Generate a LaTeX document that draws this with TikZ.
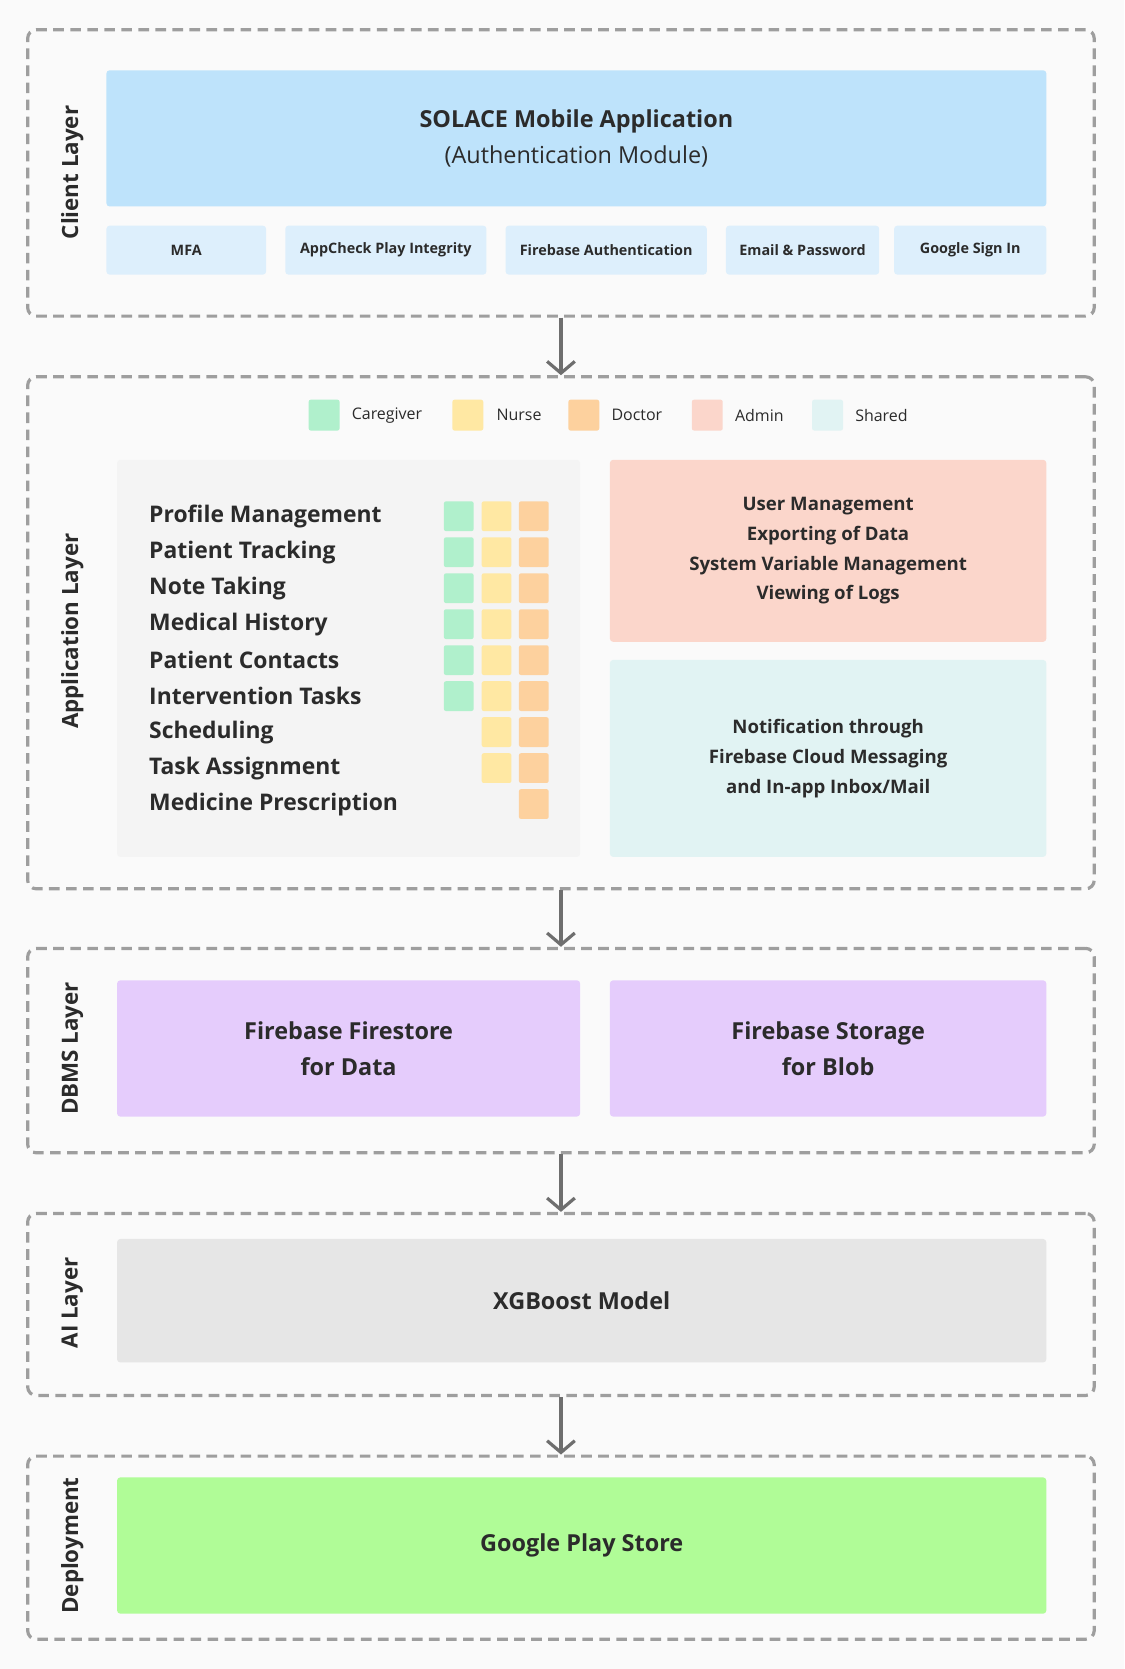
\documentclass[tikz,border=0pt]{standalone}
\usepackage{fontspec}
\setmainfont{Open Sans}
\usetikzlibrary{arrows.meta}
\definecolor{bgc}{HTML}{FAFAFA}
\definecolor{clientc}{HTML}{BEE3FB}
\definecolor{authc}{HTML}{DDEFFC}
\definecolor{carec}{HTML}{B0F0CC}
\definecolor{nursec}{HTML}{FFE8A3}
\definecolor{docc}{HTML}{FDD19E}
\definecolor{adminc}{HTML}{FBD6CB}
\definecolor{sharedc}{HTML}{E1F3F3}
\definecolor{listc}{HTML}{F4F4F4}
\definecolor{dbc}{HTML}{E5CCFC}
\definecolor{aic}{HTML}{E6E6E6}
\definecolor{deployc}{HTML}{B0FC97}
\definecolor{linec}{HTML}{9E9E9E}
\definecolor{arrowc}{HTML}{6E6E6E}
\definecolor{textc}{HTML}{2B2B2B}
\tikzset{
  layer/.style={draw=linec, line width=3pt, dash pattern=on 10pt off 6pt, rounded corners=8pt, minimum width=1002pt},
  panel/.style={rounded corners=3pt, inner sep=0pt, align=center, text=textc},
  layerlabel/.style={rotate=90, font=\fontsize{21}{26}\selectfont\bfseries, text=textc},
  flow/.style={draw=arrowc, line width=3pt, -{Straight Barb[length=11pt,width=26pt]}},
  tag/.style={panel, minimum height=46pt, font=\fontsize{13.5}{17}\selectfont\bfseries},
  key/.style={minimum size=29pt, inner sep=0pt, rounded corners=2pt},
  keytext/.style={right, font=\fontsize{15}{18}\selectfont, text=textc},
  item/.style={right, inner sep=0pt, font=\fontsize{21.5}{26}\selectfont\bfseries, text=textc},
  sq/.style={minimum size=28pt, inner sep=0pt, rounded corners=2pt}
}
\begin{document}
\begin{tikzpicture}[x=1pt,y=-1pt]
\fill[bgc] (0,0) rectangle (1056,1568);
\useasboundingbox (0,0) rectangle (1056,1568);

% layers
\node[layer, minimum height=269pt] (client) at (527,162.5) {};
\node[layer, minimum height=481pt] (app) at (527,594.5) {};
\node[layer, minimum height=192pt] (dbms) at (527,987) {};
\node[layer, minimum height=171pt] (ai) at (527,1225.5) {};
\node[layer, minimum height=172pt] (deploy) at (527,1454) {};

\node[layerlabel] (lclient) at (68,162) {Client Layer};
\node[layerlabel] (lapp) at (68,593) {Application Layer};
\node[layerlabel] (ldbms) at (68,985) {DBMS Layer};
\node[layerlabel] (lai) at (68,1224) {AI Layer};
\node[layerlabel] (ldeploy) at (68,1452) {Deployment};

% client layer
\node[panel, fill=clientc, minimum width=883pt, minimum height=128pt,
  font=\fontsize{22}{34}\selectfont] (mobile) at (541.5,130)
  {\textbf{SOLACE Mobile Application}\\(Authentication Module)};
\node[tag, fill=authc, minimum width=150pt] (mfa) at (175,235) {MFA};
\node[tag, fill=authc, minimum width=189pt] (appcheck) at (362.5,235) {AppCheck Play Integrity};
\node[tag, fill=authc, minimum width=189pt] (fbauth) at (569.5,235) {Firebase Authentication};
\node[tag, fill=authc, minimum width=144pt] (email) at (754,235) {Email \& Password};
\node[tag, fill=authc, minimum width=143pt] (google) at (911.5,235) {Google Sign In};

% legend
\node[key, fill=carec] (kcare) at (304.5,390) {};
\node[keytext] (tcare) at (327,390) {Caregiver};
\node[key, fill=nursec] (knurse) at (439.5,390) {};
\node[keytext] (tnurse) at (463,390) {Nurse};
\node[key, fill=docc] (kdoc) at (548.5,390) {};
\node[keytext] (tdoc) at (571,390) {Doctor};
\node[key, fill=adminc] (kadmin) at (664.5,390) {};
\node[keytext] (tadmin) at (687,390) {Admin};
\node[key, fill=sharedc] (kshared) at (777.5,390) {};
\node[keytext] (tshared) at (800,390) {Shared};

% features per role
\node[panel, fill=listc, minimum width=435pt, minimum height=373pt] (features) at (327.5,618.5) {};
\foreach \name [count=\i from 0] in {Profile Management, Patient Tracking, Note Taking,
  Medical History, Patient Contacts, Intervention Tasks, Scheduling,
  Task Assignment, Medicine Prescription}
  \node[item] (f\i) at (140,485+33.8*\i) {\name};
\foreach \i in {0,...,5}
  \node[sq, fill=carec] (c\i) at (431,485+33.8*\i) {};
\foreach \i in {0,...,7}
  \node[sq, fill=nursec] (n\i) at (466.5,485+33.8*\i) {};
\foreach \i in {0,...,8}
  \node[sq, fill=docc] (d\i) at (501.5,485+33.8*\i) {};

\node[panel, fill=adminc, minimum width=410pt, minimum height=171pt,
  font=\fontsize{17.5}{28}\selectfont\bfseries] (admin) at (778,517.5)
  {User Management\\Exporting of Data\\System Variable Management\\Viewing of Logs};
\node[panel, fill=sharedc, minimum width=410pt, minimum height=185pt,
  font=\fontsize{17.5}{28}\selectfont\bfseries] (shared) at (778,712.5)
  {Notification through\\Firebase Cloud Messaging\\and In-app Inbox/Mail};

% dbms, ai, deployment
\node[panel, fill=dbc, minimum width=435pt, minimum height=128pt,
  font=\fontsize{22}{34}\selectfont\bfseries] (firestore) at (327.5,985)
  {Firebase Firestore\\for Data};
\node[panel, fill=dbc, minimum width=410pt, minimum height=128pt,
  font=\fontsize{22}{34}\selectfont\bfseries] (storage) at (778,985)
  {Firebase Storage\\for Blob};
\node[panel, fill=aic, minimum width=873pt, minimum height=116pt,
  font=\fontsize{22}{26}\selectfont\bfseries] (xgb) at (546.5,1222) {XGBoost Model};
\node[panel, fill=deployc, minimum width=873pt, minimum height=128pt,
  font=\fontsize{22}{26}\selectfont\bfseries] (store) at (546.5,1452) {Google Play Store};

% flow between layers
\coordinate (ax) at (527,0);
\draw[flow] (client.south -| ax) -- (app.north -| ax);
\draw[flow] (app.south -| ax) -- (dbms.north -| ax);
\draw[flow] (dbms.south -| ax) -- (ai.north -| ax);
\draw[flow] (ai.south -| ax) -- (deploy.north -| ax);
\end{tikzpicture}
\end{document}
